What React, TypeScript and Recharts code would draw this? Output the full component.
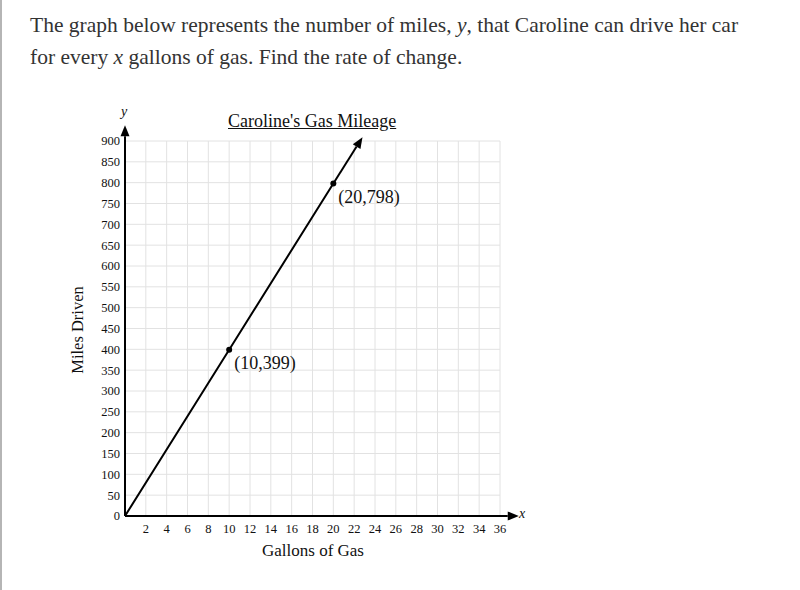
import React from 'react';
import { ComposedChart, Line, XAxis, YAxis, CartesianGrid, ReferenceLine, LabelList } from 'recharts';

const gallons = [0, 10, 20];
const miles = [0, 399, 798];
const pointLabels = ['', '(10,399)', '(20,798)'];
const xTicks = [2, 4, 6, 8, 10, 12, 14, 16, 18, 20, 22, 24, 26, 28, 30, 32, 34, 36];
const yTicks = [0, 50, 100, 150, 200, 250, 300, 350, 400, 450, 500, 550, 600, 650, 700, 750, 800, 850, 900];
const lineArrowTip = { x: 22.8, y: 909 };
const xAxisEnd = 37.8;
const yAxisEnd = 938;

const data = gallons.map((g, i) => ({ x: g, y: miles[i], label: pointLabels[i] }));

const SERIF = '"Liberation Serif", "DejaVu Serif", serif';

const Arrow = (props: any) => {
  const { x1, y1, x2, y2 } = props;
  const ang = Math.atan2(y2 - y1, x2 - x1);
  const len = 11;
  const hw = 4.5;
  const bx = x2 - len * Math.cos(ang);
  const by = y2 - len * Math.sin(ang);
  const px = -Math.sin(ang) * hw;
  const py = Math.cos(ang) * hw;
  return (
    <g>
      <line x1={x1} y1={y1} x2={bx} y2={by} stroke="#000" strokeWidth={2} />
      <polygon points={`${x2},${y2} ${bx + px},${by + py} ${bx - px},${by - py}`} fill="#000" />
    </g>
  );
};

const Dot = (props: any) => {
  const { cx, cy, payload } = props;
  if (!payload || !payload.label) return <g key={props.index} />;
  return <circle key={props.index} cx={cx} cy={cy} r={3} fill="#000" />;
};

const PointLabel = (props: any) => {
  const { x, y, value } = props;
  if (!value) return null;
  return (
    <text x={x + 5} y={y + 19} fontFamily={SERIF} fontSize={18} fill="#111">
      {value}
    </text>
  );
};

export default function App() {
  return (
    <div style={{ position: 'absolute', left: 0, top: 0, width: 800, height: 590, background: '#fff', overflow: 'hidden' }}>
      <div style={{ position: 'absolute', left: 0, top: 0, width: 2, height: 590, background: '#b5b5b5' }} />
      <div style={{ position: 'absolute', left: 30, top: 9, width: 765, fontFamily: SERIF, fontSize: 21.5, lineHeight: '32px', color: '#333', whiteSpace: 'nowrap' }}>
        The graph below represents the number of miles, <i>y</i>, that Caroline can drive her car
        <br />
        for every <i>x</i> gallons of gas. Find the rate of change.
      </div>
      <div style={{ position: 'absolute', left: 0, top: 0 }}>
        <ComposedChart width={800} height={590} data={data} margin={{ top: 141, right: 300, bottom: 44, left: 65 }}>
          <CartesianGrid stroke="#e2e2e2" strokeWidth={1} />
          <XAxis
            type="number"
            dataKey="x"
            domain={[0, 36]}
            ticks={xTicks}
            interval={0}
            axisLine={false}
            tickLine={false}
            height={30}
            tick={{ fontFamily: SERIF, fontSize: 12.5, fill: '#111' }}
          />
          <YAxis
            type="number"
            dataKey="y"
            domain={[0, 900]}
            ticks={yTicks}
            interval={0}
            axisLine={false}
            tickLine={false}
            tickSize={4}
            tickMargin={1}
            width={60}
            tick={{ fontFamily: SERIF, fontSize: 12.5, fill: '#111' }}
          />
          <ReferenceLine segment={[{ x: 0, y: 0 }, { x: xAxisEnd, y: 0 }]} ifOverflow="visible" shape={Arrow} />
          <ReferenceLine segment={[{ x: 0, y: 0 }, { x: 0, y: yAxisEnd }]} ifOverflow="visible" shape={Arrow} />
          <ReferenceLine
            segment={[{ x: gallons[2], y: miles[2] }, { x: lineArrowTip.x, y: lineArrowTip.y }]}
            ifOverflow="visible"
            shape={Arrow}
          />
          <Line
            type="linear"
            dataKey="y"
            stroke="#000"
            strokeWidth={2}
            dot={Dot}
            activeDot={false}
            isAnimationActive={false}
          >
            <LabelList dataKey="label" content={PointLabel} />
          </Line>
        </ComposedChart>
      </div>
      <div style={{ position: 'absolute', left: 228, top: 111, fontFamily: SERIF, fontSize: 18, color: '#111', textDecoration: 'underline' }}>
        Caroline's Gas Mileage
      </div>
      <div style={{ position: 'absolute', left: 262, top: 541, fontFamily: SERIF, fontSize: 17, color: '#111' }}>
        Gallons of Gas
      </div>
      <div
        style={{
          position: 'absolute',
          left: 78,
          top: 330,
          fontFamily: SERIF,
          fontSize: 16.5,
          color: '#111',
          whiteSpace: 'nowrap',
          transform: 'translate(-50%, -50%) rotate(-90deg)',
        }}
      >
        Miles Driven
      </div>
      <div style={{ position: 'absolute', left: 519, top: 506, fontFamily: SERIF, fontSize: 14, fontStyle: 'italic', color: '#111' }}>x</div>
      <div style={{ position: 'absolute', left: 121, top: 104, fontFamily: SERIF, fontSize: 14, fontStyle: 'italic', color: '#111' }}>y</div>
    </div>
  );
}
